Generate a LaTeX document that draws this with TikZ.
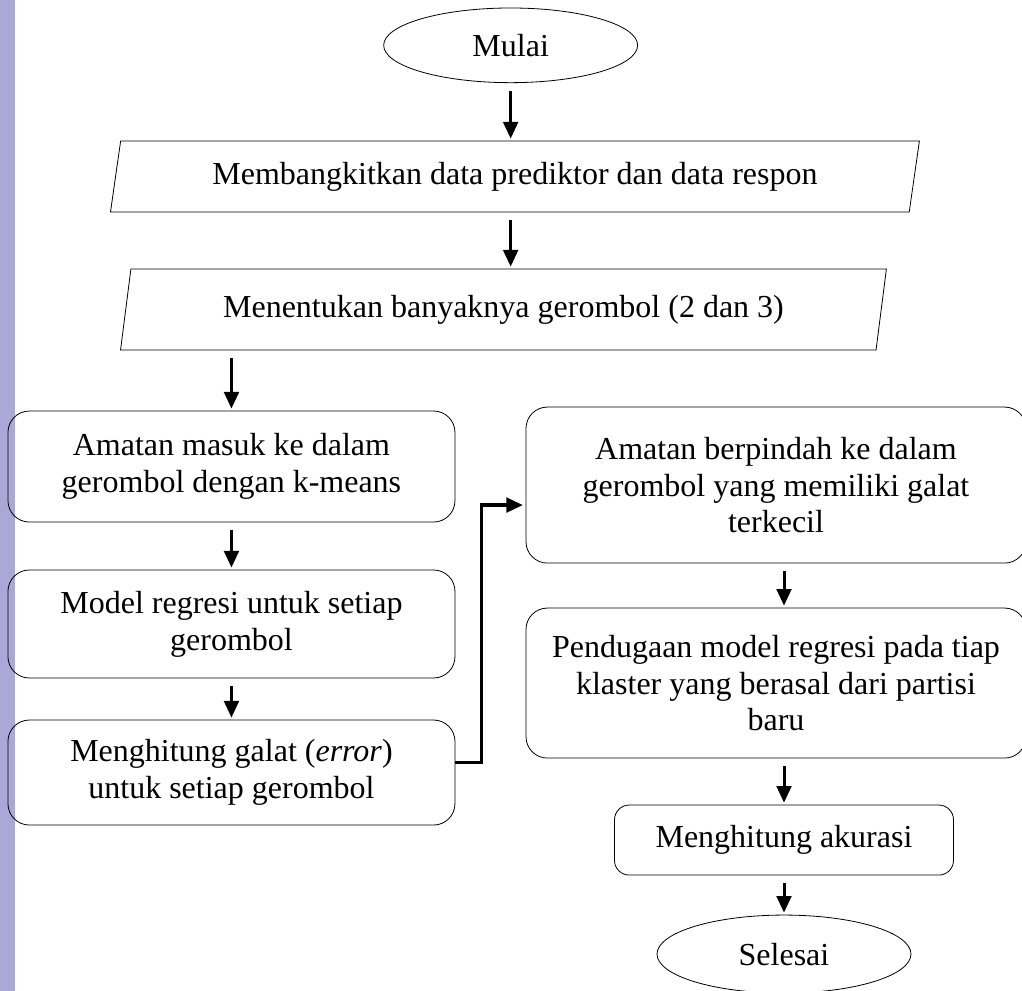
\documentclass[tikz,border=0pt]{standalone}
\usepackage{fontspec}
\setmainfont{Liberation Serif}
\usetikzlibrary{shapes.geometric, arrows.meta}
\definecolor{stripe}{RGB}{170,168,214}
\tikzset{
term/.style  = {draw, ellipse, line width=0.6pt, minimum width=190.5pt,
                minimum height=56pt, inner sep=0pt},
io/.style    = {draw, trapezium, trapezium left angle=75,
                trapezium right angle=105, trapezium stretches=true,
                line width=0.6pt, inner sep=0pt},
block/.style = {draw, rounded corners=16pt, line width=0.6pt, align=center,
                inner sep=0pt, minimum width=335.25pt},
wide/.style  = {block, minimum width=375pt},
flow/.style  = {->, line width=2.25pt, shorten <=6pt, shorten >=1.5pt},
conn/.style  = {->, line width=2.5pt, shorten >=2pt},
>={Triangle[length=12.5pt, width=11pt]}
}

\begin{document}
\begin{tikzpicture}[font=\fontsize{24}{27.6}\selectfont]
    \useasboundingbox (0,0) rectangle (766.5pt,-743.25pt);
    \fill [stripe] (0,0) rectangle (11.25pt,-743.25pt);

    \node [term] (start) at (383pt,-34pt) {Mulai};
    \node [io, below of=start, node distance=98.4pt, xshift=3.2pt,
        minimum width=610pt, minimum height=53.25pt] (gen)
        {Membangkitkan data prediktor dan data respon};
    \node [io, below of=gen, node distance=99.75pt, xshift=-8.6pt,
        minimum width=576.75pt, minimum height=60.75pt] (clus)
        {Menentukan banyaknya gerombol (2 dan 3)};

    % left column
    \node [block, below of=clus, node distance=117.75pt, xshift=-204pt,
        minimum height=83.25pt] (kmeans)
        {Amatan masuk ke dalam\\gerombol dengan k-means};
    \node [block, below of=kmeans, node distance=118.1pt,
        minimum height=81pt] (model) {Model regresi untuk setiap\\gerombol};
    \node [block, below of=model, node distance=111.4pt,
        minimum height=78.75pt] (err)
        {Menghitung galat (\textit{error})\\untuk setiap gerombol};

    % right column
    \node [wide, right of=kmeans, node distance=408.4pt, yshift=-13.9pt,
        minimum height=117pt] (move)
        {Amatan berpindah ke dalam\\gerombol yang memiliki galat\\terkecil};
    \node [wide, below of=move, node distance=148.5pt,
        minimum height=112.5pt] (est)
        {Pendugaan model regresi pada tiap\\klaster yang berasal dari partisi\\baru};
    \node [block, below of=est, node distance=117.75pt, xshift=6pt,
        minimum width=254.25pt, minimum height=52.5pt,
        rounded corners=11pt] (acc) {Menghitung akurasi};
    \node [term, below of=acc, node distance=85.5pt,
        minimum height=58.5pt] (end) {Selesai};

    \draw [flow] (start.south) -- (start.south |- gen.north);
    \draw [flow] (gen.south -| start) -- (clus.north -| start);
    \draw [flow] (clus.south -| kmeans) -- (kmeans.north);
    \draw [flow] (kmeans) -- (model);
    \draw [flow] (model) -- (err);
    \draw [conn] ([yshift=7.5pt]err.east) -- ++(19.5pt,0)
        |- ([yshift=-15pt]move.west);
    \draw [flow] (move.south -| acc) -- (est.north -| acc);
    \draw [flow] (est.south -| acc) -- (acc.north);
    \draw [flow] (acc) -- (end);
\end{tikzpicture}
\end{document}
